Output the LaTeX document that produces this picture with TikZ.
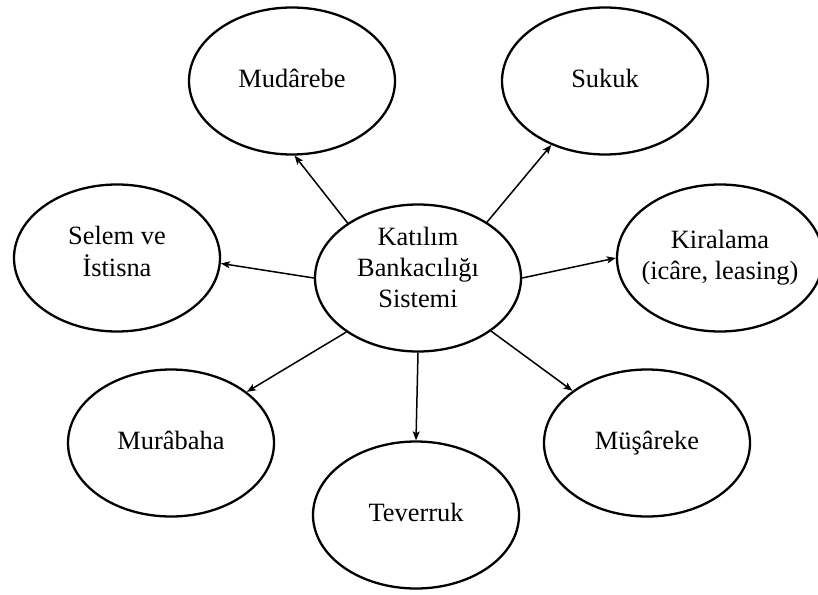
\documentclass[tikz,border=0pt]{standalone}
\usepackage{fontspec}
\setmainfont{Liberation Serif}
\usetikzlibrary{shapes.geometric,arrows.meta}
\newcommand\ctrtext[2][0]{\raisebox{\dimexpr#1pt-6.5pt\relax}[0pt][0pt]{\makebox[0pt]{\begin{tabular}{@{}c@{}}#2\end{tabular}}}}
\tikzset{
  bubble/.style={ellipse, draw, line width=2.3pt, minimum width=206pt, minimum height=147pt,
    inner sep=0pt, font=\fontsize{26.4}{31}\selectfont},
  link/.style={line width=1.5pt, -{Stealth[length=9pt,width=7pt,inset=2pt]}}
}
\begin{document}
\begin{tikzpicture}[x=1pt,y=-1pt]
\useasboundingbox (0,0) rectangle (818,594);
\node[bubble] (c) at (418,278) {\ctrtext[8]{Katılım\\Bankacılığı\\Sistemi}};
\node[bubble] (m) at (292,81) {\ctrtext{Mudârebe}};
\node[bubble] (s) at (605,81) {\ctrtext{Sukuk}};
\node[bubble] (l) at (117,258) {\ctrtext[4]{Selem ve\\İstisna}};
\node[bubble] (k) at (720,258) {\ctrtext{Kiralama\\(icâre, leasing)}};
\node[bubble] (b) at (171,443) {\ctrtext{Murâbaha}};
\node[bubble] (t) at (416,515) {\ctrtext{Teverruk}};
\node[bubble] (u) at (647,443) {\ctrtext{Müşâreke}};
\draw[link] (c.142) -- (m.272);
\draw[link] (c.39) -- (s.230);
\draw[link] (c.180) -- (l.357);
\draw[link] (c.0) -- (k.180);
\draw[link] (c.217) -- (b.34);
\draw[link] (c.270) -- (t.90);
\draw[link] (c.324) -- (u.145);
\end{tikzpicture}
\end{document}
